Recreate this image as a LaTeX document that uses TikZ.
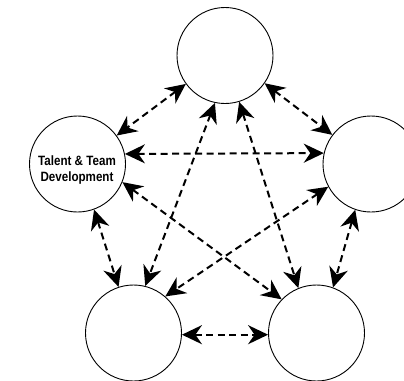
\documentclass[tikz,border=0pt]{standalone}
\usepackage{fontspec}
\setmainfont{Liberation Sans}
\newfontfamily\labelfont[FakeStretch=0.86]{Liberation Sans}
\usetikzlibrary{arrows.meta}
\begin{document}
\begin{tikzpicture}[x=1pt,y=-1pt,
  hub/.style={circle, draw, line width=0.9pt, minimum size=96pt, inner sep=0pt, fill=white},
  link/.style={{Stealth[length=20pt,width=19pt,inset=6.5pt]}-{Stealth[length=20pt,width=19pt,inset=6.5pt]}, dash pattern=on 7pt off 4.5pt, line width=2pt},
  txt/.style={font=\labelfont\bfseries\fontsize{13.5}{16}\selectfont, align=center, inner sep=0pt}]
\useasboundingbox (0,0) rectangle (404,380);
\clip (0,0) rectangle (404,380);
\node[hub] (T) at (225,55.5) {};
\node[hub] (L) at (77.5,164) {};
\node[hub] (R) at (371,164) {};
\node[hub] (B) at (133.5,333) {};
\node[hub] (E) at (316.5,333) {};
\node[txt] (lt) at (77,170) {Talent \& Team\\Development};
\draw[link] (T.216) -- (L.36.8);
\draw[link] (T.325) -- (R.143.3);
\draw[link] (L.12.5) -- (R.167.5);
\draw[link] (T.258.6) -- (B.76.8);
\draw[link] (T.287.6) -- (E.112.6);
\draw[link] (L.-22.7) -- (E.136.5);
\draw[link] (R.208.6) -- (B.49.8);
\draw[link] (L.-70) -- (B.108.3);
\draw[link] (R.251.6) -- (E.70.5);
\draw[link] (B.-2.3) -- (E.182.3);
\end{tikzpicture}
\end{document}
